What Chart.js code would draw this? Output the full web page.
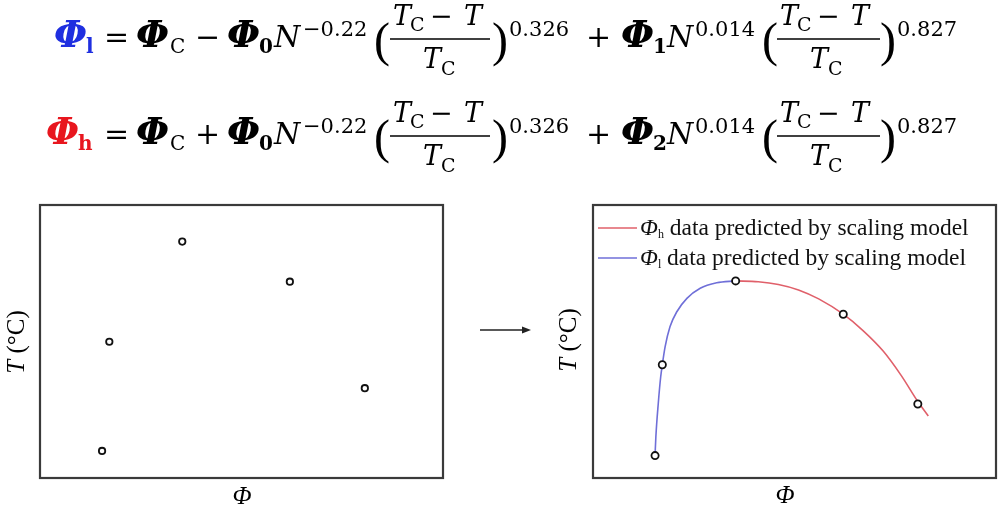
<!DOCTYPE html>
<html>
<head>
<meta charset="utf-8">
<script src="https://cdn.jsdelivr.net/npm/chart.js@4"></script>
<style>
  html, body { margin: 0; padding: 0; background: #fff; }
  #page { position: relative; width: 1000px; height: 508px; overflow: hidden; }
  canvas { position: absolute; }
  #leftChart { left: 38px; top: 203px; }
  #rightChart { left: 591px; top: 203px; }
  #overlay { position: absolute; left: 0; top: 0; pointer-events: none; }
</style>
</head>
<body>
<div id="page">
  <canvas id="leftChart" width="407" height="277"></canvas>
  <canvas id="rightChart" width="407" height="277"></canvas>
  <svg id="overlay" width="1000" height="508"></svg>
</div>
<script>
// measured points, both panels (Φ, T) in arbitrary units 0..100
const phiMeasured = [15.4, 17.2, 35.3, 62.0, 80.6];
const tMeasured = [9.9, 49.9, 86.6, 71.9, 32.9];

const phiFitted = [15.4, 17.2, 35.4, 62.1, 80.6];
const tFitted = [8.2, 41.5, 72.2, 60.0, 27.1];

// Φl branch (blue) and Φh branch (red)
const phiLow = [15.4, 15.6, 16.2, 16.8, 17.2, 17.9, 19.1, 20.8, 23.3, 26.6, 30.7, 35.4];
const tLow = [8.4, 15.1, 27.4, 37.1, 41.5, 48.1, 55.4, 60.9, 65.8, 69.5, 71.5, 72.2];
const phiHigh = [35.4, 41, 46, 51, 56, 62.1, 67, 72, 76.5, 80.6, 83.2];
const tHigh = [72.2, 71.9, 70.9, 68.9, 65.6, 60.0, 54.0, 46.5, 37.5, 28.0, 22.7];

const seriesLabels = ["Φh data predicted by scaling model", "Φl data predicted by scaling model"];

const RED = "#e0606a";
const BLUE = "#6f6fd8";

const pts = (xs, ys) => xs.map((x, i) => ({ x: x, y: ys[i] }));

const frame = {
  id: "frame",
  afterDraw(chart) {
    const a = chart.chartArea, ctx = chart.ctx;
    ctx.save();
    ctx.strokeStyle = "#3a3a3a";
    ctx.lineWidth = 2.2;
    ctx.strokeRect(a.left, a.top, a.right - a.left, a.bottom - a.top);
    ctx.restore();
  }
};

function baseOptions() {
  return {
    responsive: false,
    animation: false,
    devicePixelRatio: 1,
    layout: { padding: 2, autoPadding: false },
    plugins: { legend: { display: false }, tooltip: { enabled: false } },
    scales: {
      x: { type: "linear", min: 0, max: 100, display: false },
      y: { type: "linear", min: 0, max: 100, display: false },
    },
  };
}

const circles = (data, r) => ({
  type: "scatter",
  data: data,
  pointRadius: r,
  pointBorderWidth: 1.8,
  pointBorderColor: "#111",
  pointBackgroundColor: "#fff",
  order: 0,
});

const curve = (label, data, color) => ({
  type: "line", label: label, data: data,
  borderColor: color, borderWidth: 1.6, pointRadius: 0,
  cubicInterpolationMode: "monotone", fill: false, order: 1,
});

new Chart(document.getElementById("leftChart"), {
  type: "scatter",
  data: { datasets: [circles(pts(phiMeasured, tMeasured), 3.2)] },
  options: baseOptions(),
  plugins: [frame],
});

new Chart(document.getElementById("rightChart"), {
  type: "scatter",
  data: {
    datasets: [
      curve(seriesLabels[0], pts(phiHigh, tHigh), RED),
      curve(seriesLabels[1], pts(phiLow, tLow), BLUE),
      circles(pts(phiFitted, tFitted), 3.6),
    ],
  },
  options: baseOptions(),
  plugins: [frame],
});

// equations, arrow, axis titles and legend as svg text
(function () {
  const SERIF = "DejaVu Serif, serif";
  const TIMES = "Liberation Serif, Times New Roman, serif";
  const t = (x, y, s, size, extra) =>
    '<text x="' + x + '" y="' + y + '" font-size="' + size + '" font-family="' + SERIF + '" ' + (extra || "") + '>' + s + '</text>';
  const paren = (x, b, s) =>
    '<text x="' + x + '" y="' + (b + 9) + '" font-size="48" font-family="' + TIMES + '">' + s + '</text>';
  const phi = (x, b, sub, color) =>
    t(x, b, "Φ", 38, 'font-weight="bold" font-style="italic" fill="' + color + '"') +
    t(x + 32, b + 6, sub, 20, 'font-weight="bold" fill="' + color + '"');

  function frac(x0, x1, b) {
    const nb = b - 22, db = b + 21;
    return t(x0 + 3, nb, "T", 27, 'font-style="italic"') +
      t(x0 + 20, nb + 6, "C", 19) +
      t(x0 + 40, nb, "−", 27) +
      t(x0 + 74, nb, "T", 27, 'font-style="italic"') +
      '<line x1="' + x0 + '" x2="' + x1 + '" y1="' + (b - 8) + '" y2="' + (b - 8) + '" stroke="#000" stroke-width="1.6"/>' +
      t(x0 + 33, db, "T", 27, 'font-style="italic"') +
      t(x0 + 51, db + 7, "C", 19);
  }

  function eq(b, headX, headSub, headColor, sign, k) {
    return phi(headX, b, headSub, headColor) +
      t(104, b, "=", 30) +
      t(136, b, "Φ", 38, 'font-weight="bold" font-style="italic"') + t(170, b + 6, "C", 20) +
      t(195, b, sign, 30) +
      phi(227, b, "0", "#000") +
      t(274, b, "N", 30, 'font-style="italic"') +
      t(303, b - 11, "−0.22", 21) +
      paren(374, b, "(") +
      frac(390, 490, b) +
      paren(492, b, ")") +
      t(509, b - 11, "0.326", 21) +
      t(586, b, "+", 30) +
      phi(621, b, k, "#000") +
      t(667, b, "N", 30, 'font-style="italic"') +
      t(695, b - 11, "0.014", 21) +
      paren(762, b, "(") +
      frac(777, 880, b) +
      paren(880, b, ")") +
      t(897, b - 11, "0.827", 21);
  }

  const axisT = (x, y) =>
    '<text transform="translate(' + x + ',' + y + ') rotate(-90)" text-anchor="middle" font-size="25" font-family="' + TIMES + '">' +
    '<tspan font-style="italic">T</tspan> (°C)</text>';
  const axisPhi = (x, y) =>
    '<text x="' + x + '" y="' + y + '" text-anchor="middle" font-size="25" font-style="italic" font-family="' + TIMES + '">Φ</text>';
  const legendRow = (y, color, sub) =>
    '<line x1="598" x2="637" y1="' + (y - 7) + '" y2="' + (y - 7) + '" stroke="' + color + '" stroke-width="1.6"/>' +
    '<text x="640" y="' + y + '" font-size="23.5" font-family="' + TIMES + '" fill="#111">' +
    '<tspan font-style="italic">Φ</tspan><tspan font-size="12" dy="3">' + sub + '</tspan>' +
    '<tspan dy="-3"> data predicted by scaling model</tspan></text>';

  document.getElementById("overlay").innerHTML =
    eq(47, 54, "l", "#1f2fe0", "−", "1") +
    eq(144, 46, "h", "#e8161e", "+", "2") +
    axisT(24, 342) + axisT(576, 340) +
    axisPhi(242, 504) + axisPhi(785, 503) +
    '<line x1="480" x2="524" y1="330" y2="330" stroke="#222" stroke-width="1.6"/>' +
    '<polygon points="522,326.5 531,330 522,333.5" fill="#222"/>' +
    legendRow(235, RED, "h") + legendRow(265, BLUE, "l");
})();
</script>
</body>
</html>
